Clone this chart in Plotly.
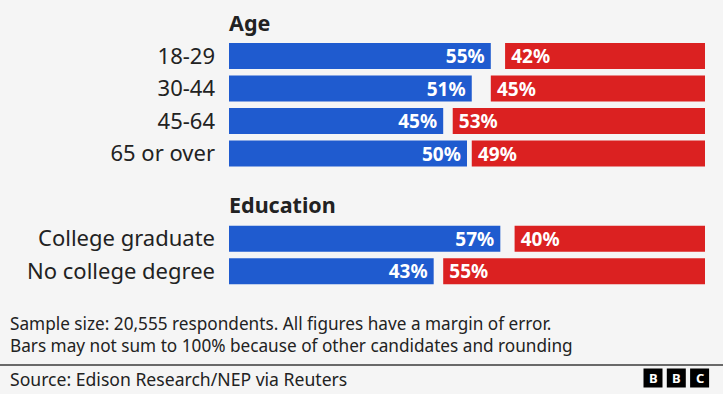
import plotly.graph_objects as go

# ---- data ----
age_groups = ["18-29", "30-44", "45-64", "65 or over"]
age_harris = [55, 51, 45, 50]
age_trump = [42, 45, 53, 49]

edu_groups = ["College graduate", "No college degree"]
edu_harris = [57, 43]
edu_trump = [40, 55]

section_titles = ["Age", "Education"]
note_lines = [
    "Sample size: 20,555 respondents. All figures have a margin of error.",
    "Bars may not sum to 100% because of other candidates and rounding",
]
source_text = "Source: Edison Research/NEP via Reuters"

# ---- style ----
W, H = 723, 394
ML, MR = 229, 18
PW = W - ML - MR
BLUE = "#1f5bcf"
RED = "#db2121"
BG = "#f5f5f5"
TXT = "#222222"
FONT = "Noto Sans"
THIN = "\u2009"


def px_x(px):
    return (px - ML) / PW


def px_y(py):
    return 1 - py / H


fig = go.Figure()


def add_group(cats, harris, trump, xa, ya):
    fig.add_trace(go.Bar(
        y=cats, x=harris, orientation="h", marker=dict(color=BLUE, line=dict(width=0)),
        text=[f"{v}%{THIN}" for v in harris], textposition="inside", insidetextanchor="end",
        constraintext="none", textangle=0,
        textfont=dict(color="white", size=19, family=FONT, weight="bold"),
        xaxis=xa, yaxis=ya, showlegend=False, hoverinfo="skip", cliponaxis=False,
    ))
    fig.add_trace(go.Bar(
        y=cats, x=trump, base=[100 - v for v in trump], orientation="h",
        marker=dict(color=RED, line=dict(width=0)),
        text=[f"{THIN}{v}%" for v in trump], textposition="inside", insidetextanchor="start",
        constraintext="none", textangle=0,
        textfont=dict(color="white", size=19, family=FONT, weight="bold"),
        xaxis=xa, yaxis=ya, showlegend=False, hoverinfo="skip", cliponaxis=False,
    ))


add_group(age_groups, age_harris, age_trump, "x", "y")
add_group(edu_groups, edu_harris, edu_trump, "x2", "y2")

xax = dict(range=[0, 100], showgrid=False, zeroline=False, showticklabels=False,
           showline=False, ticks="", fixedrange=True)
fig.update_layout(
    xaxis=dict(**xax, anchor="y"),
    xaxis2=dict(**xax, anchor="y2"),
    yaxis=dict(domain=[px_y(169.75), px_y(39.75)], type="category",
               categoryarray=age_groups, range=[len(age_groups) - 0.5, -0.5],
               tickfont=dict(size=22, color=TXT, family=FONT), ticks="",
               ticklabelstandoff=13, showgrid=False, zeroline=False, anchor="x"),
    yaxis2=dict(domain=[px_y(287.6), px_y(222.4)], type="category",
                categoryarray=edu_groups, range=[len(edu_groups) - 0.5, -0.5],
                tickfont=dict(size=22, color=TXT, family=FONT), ticks="",
                ticklabelstandoff=13, showgrid=False, zeroline=False, anchor="x2"),
    barmode="overlay", bargap=0.2,
    width=W, height=H, autosize=False,
    margin=dict(l=ML, r=MR, t=0, b=0, pad=0),
    paper_bgcolor=BG, plot_bgcolor=BG,
    font=dict(family=FONT, color=TXT),
)

ann = []
for title, cy in zip(section_titles, [22, 204]):
    ann.append(dict(text=f"<b>{title}</b>", x=px_x(226.5), y=px_y(cy), xref="paper", yref="paper",
                    xanchor="left", yanchor="middle", showarrow=False,
                    font=dict(size=21.5, color=TXT, family=FONT)))
for line, cy in zip(note_lines, [323, 345.5]):
    ann.append(dict(text=line, x=px_x(8), y=px_y(cy), xref="paper", yref="paper",
                    xanchor="left", yanchor="middle", showarrow=False,
                    font=dict(size=17.2, color=TXT, family=FONT)))
ann.append(dict(text=source_text, x=px_x(8), y=px_y(378.5), xref="paper", yref="paper",
                xanchor="left", yanchor="middle", showarrow=False,
                font=dict(size=17.6, color=TXT, family=FONT)))

shapes = [dict(type="line", xref="paper", yref="paper", x0=px_x(0), x1=px_x(W),
               y0=px_y(365), y1=px_y(365), line=dict(color="#3a3a3a", width=1.5))]
for i, letter in enumerate("BBC"):
    x0 = 643.5 + i * 23.3
    shapes.append(dict(type="rect", xref="paper", yref="paper", x0=px_x(x0), x1=px_x(x0 + 19),
                       y0=px_y(387.5), y1=px_y(368.5), fillcolor="#000000", line=dict(width=0)))
    ann.append(dict(text=f"<b>{letter}</b>", x=px_x(x0 + 9.5), y=px_y(378.3), xref="paper", yref="paper",
                    xanchor="center", yanchor="middle", showarrow=False,
                    font=dict(size=13, color="white", family=FONT)))

fig.update_layout(annotations=ann, shapes=shapes)
fig.write_html("out.html", config={"displayModeBar": False},
               post_script="document.body.style.margin='0';document.body.style.overflow='hidden';")
